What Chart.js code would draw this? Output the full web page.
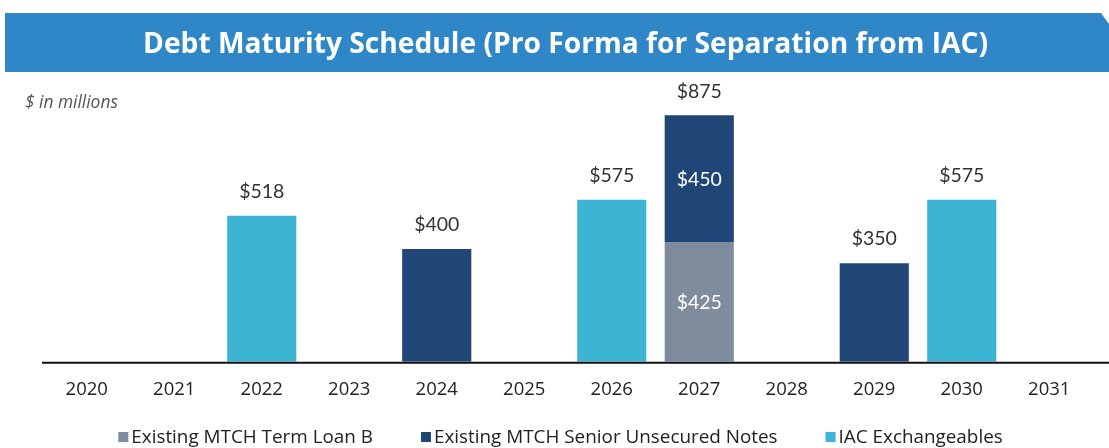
<!DOCTYPE html>
<html>
<head>
<meta charset="utf-8">
<script src="https://cdn.jsdelivr.net/npm/chart.js@4.4.1/dist/chart.umd.min.js"></script>
<style>
  html, body { margin: 0; padding: 0; background: #ffffff; }
  #wrap { width: 1109px; height: 448px; position: relative; }
</style>
</head>
<body>
<div id="wrap"><canvas id="c" width="1109" height="448"></canvas></div>
<script>
const titleText = "Debt Maturity Schedule (Pro Forma for Separation from IAC)";
const unitText = "$ in millions";
const years = ["2020","2021","2022","2023","2024","2025","2026","2027","2028","2029","2030","2031"];
const termLoanB = [null,null,null,null,null,null,null,425,null,null,null,null];
const seniorNotes = [null,null,null,null,400,null,null,450,null,350,null,null];
const iacExchangeables = [null,null,518,null,null,null,575,null,null,null,575,null];
const seriesNames = ["Existing MTCH Term Loan B","Existing MTCH Senior Unsecured Notes","IAC Exchangeables"];

const colGray = "#7E8C9D", colNavy = "#1F4677", colCyan = "#3DB4D4";

function fitFont(ctx, text, style, family, targetW) {
  ctx.font = style + " 20px " + family;
  const w = ctx.measureText(text).width;
  return 20 * targetW / w;
}

const decor = {
  id: "decor",
  beforeDraw(chart) {
    const ctx = chart.ctx;
    ctx.save();
    // title bar with chamfered top-right corner
    ctx.fillStyle = "#2F87C8";
    ctx.beginPath();
    ctx.moveTo(5, 13);
    ctx.lineTo(1101, 13);
    ctx.lineTo(1109, 24);
    ctx.lineTo(1109, 72);
    ctx.lineTo(5, 72);
    ctx.closePath();
    ctx.fill();
    // title text
    const fs = fitFont(ctx, titleText, "bold", "'Open Sans'", 845);
    ctx.font = "bold " + fs.toFixed(2) + "px 'Open Sans'";
    ctx.fillStyle = "#ffffff";
    ctx.textAlign = "center";
    ctx.textBaseline = "middle";
    ctx.fillText(titleText, 565.5, 45);
    // unit note
    const fs2 = fitFont(ctx, unitText, "italic", "'Open Sans'", 93);
    ctx.font = "italic " + fs2.toFixed(2) + "px 'Open Sans'";
    ctx.fillStyle = "#555555";
    ctx.textAlign = "left";
    ctx.fillText(unitText, 25, 103);
    ctx.restore();
  },
  afterDatasetsDraw(chart) {
    const ctx = chart.ctx;
    const area = chart.chartArea;
    const yScale = chart.scales.y;
    ctx.save();
    // baseline
    ctx.strokeStyle = "#111111";
    ctx.lineWidth = 2;
    ctx.beginPath();
    ctx.moveTo(area.left - 1, area.bottom + 1);
    ctx.lineTo(1109, area.bottom + 1);
    ctx.stroke();
    // value labels
    ctx.font = "19.5px Lato";
    ctx.textAlign = "center";
    ctx.textBaseline = "middle";
    const n = chart.data.labels.length;
    for (let i = 0; i < n; i++) {
      let total = 0, count = 0, x = null;
      chart.data.datasets.forEach((ds, di) => {
        const v = ds.data[i];
        if (v != null) {
          total += v; count++;
          x = chart.getDatasetMeta(di).data[i].x;
        }
      });
      if (count === 0) continue;
      if (count > 1) {
        chart.data.datasets.forEach((ds, di) => {
          const v = ds.data[i];
          if (v == null) return;
          const bar = chart.getDatasetMeta(di).data[i];
          ctx.fillStyle = "#ffffff";
          ctx.fillText("$" + v, bar.x, (bar.y + bar.base) / 2 + 1);
        });
      }
      ctx.fillStyle = "#333333";
      ctx.fillText("$" + total, x, yScale.getPixelForValue(total) - 24);
    }
    // legend (built from the chart's datasets)
    const lfs = fitFont(ctx, chart.data.datasets[0].label, "normal", "'Open Sans'", 242);
    ctx.font = lfs.toFixed(2) + "px 'Open Sans'";
    const box = 10, gapText = 3, gapItem = 48;
    const items = chart.data.datasets.map(ds => ({ label: ds.label, color: ds.backgroundColor, w: ctx.measureText(ds.label).width }));
    let totalW = 0;
    items.forEach((it, k) => { totalW += box + gapText + it.w + (k < items.length - 1 ? gapItem : 0); });
    let lx = 560.5 - totalW / 2;
    const ly = 437;
    ctx.textAlign = "left";
    ctx.textBaseline = "middle";
    items.forEach(it => {
      ctx.fillStyle = it.color;
      ctx.fillRect(lx, ly - box / 2, box, box);
      ctx.fillStyle = "#222222";
      ctx.fillText(it.label, lx + box + gapText, ly + 1);
      lx += box + gapText + it.w + gapItem;
    });
    ctx.restore();
  }
};

new Chart(document.getElementById("c"), {
  type: "bar",
  data: {
    labels: years,
    datasets: [
      { label: seriesNames[0], data: termLoanB, backgroundColor: colGray },
      { label: seriesNames[1], data: seniorNotes, backgroundColor: colNavy },
      { label: seriesNames[2], data: iacExchangeables, backgroundColor: colCyan }
    ]
  },
  options: {
    responsive: false,
    animation: false,
    layout: { padding: { top: 80, left: 43, right: 16, bottom: 30 } },
    datasets: { bar: { categoryPercentage: 1.0, barPercentage: 0.79 } },
    scales: {
      x: {
        stacked: true,
        grid: { display: false, drawTicks: false },
        border: { display: false },
        ticks: { color: "#222222", font: { family: "'Open Sans'", size: 18.5 }, padding: 17 }
      },
      y: {
        stacked: true,
        display: false,
        min: 0,
        max: 1000
      }
    },
    plugins: {
      legend: { display: false },
      tooltip: { enabled: false },
      title: { display: false }
    }
  },
  plugins: [decor]
});
</script>
</body>
</html>
